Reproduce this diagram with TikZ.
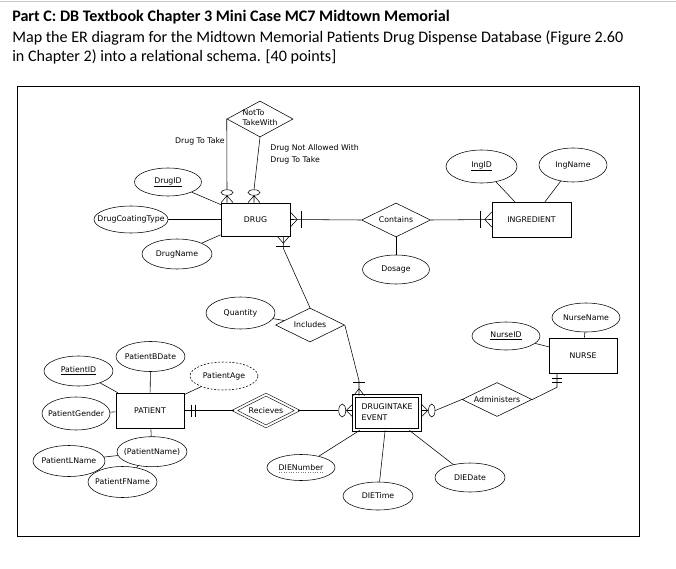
\documentclass[tikz,border=0pt]{standalone}
\usepackage{fontspec}
\newfontfamily\dgfont{DejaVu Sans}
\newfontfamily\ttlfont{Carlito}
\usetikzlibrary{shapes.geometric,calc}
\newcommand\zb[1]{\makebox[0pt]{#1}}
\newcommand\dg{\dgfont\fontsize{7.8}{9}\selectfont}
\begin{document}
\begin{tikzpicture}[x=1pt,y=-1pt,line width=0.55pt,
 ent/.style={draw,rectangle,inner sep=0,font=\dg},
 att/.style={draw,ellipse,inner sep=0,font=\dg},
 rel/.style={draw,diamond,inner sep=0,font=\dg},
 sz/.style 2 args={minimum width=#1pt,minimum height=#2pt},
 oval/.style={draw,ellipse,inner sep=0},
 txt/.style={inner sep=0,font=\dg},
 ttl/.style={inner sep=0,anchor=base west,font=\ttlfont\fontsize{16.1}{19}\selectfont}]
\useasboundingbox (0,0) rectangle (676,569);
\fill[white] (0,0) rectangle (676,569);
\draw[color={rgb,255:red,200;green,200;blue,200},line width=1pt] (0,1.5) -- (676,1.5);

% title
\node[ttl] (t1) at (12,22) {\bfseries Part C: DB Textbook Chapter 3 Mini Case MC7 Midtown Memorial};
\node[ttl] (t2) at (12,42.5) {Map the ER diagram for the Midtown Memorial Patients Drug Dispense Database (Figure 2.60};
\node[ttl] (t3) at (12,61.5) {in Chapter 2) into a relational schema. [40 points]};

% frame
\draw[line width=0.7pt] (17,86) rectangle (639,536);

% entities
\node[ent,sz={69}{33}] (drug) at (255.5,219.5) {\zb{DRUG}};
\node[ent,sz={79}{35}] (ingr) at (531.5,219.5) {\zb{INGREDIENT}};
\node[ent,sz={68}{35}] (nurse) at (583,355.5) {\zb{NURSE}};
\node[ent,sz={68}{35}] (patient) at (150,410.5) {\zb{PATIENT}};
\node[ent,double,double distance=2pt,sz={66}{34}] (die) at (387,413)
  {\zb{\begin{tabular}{@{}l@{}}DRUGINTAKE\\[1.5pt]EVENT\end{tabular}}};

% relationships
\node[rel,sz={66}{36}] (nt) at (260,119)
  {\zb{\begin{tabular}{@{}l@{}}NotTo\\[1pt]TakeWith\end{tabular}}};
\node[rel,sz={69}{34}] (cont) at (396,220) {\zb{Contains}};
\node[rel,sz={69}{34}] (incl) at (310,325) {\zb{Includes}};
\node[rel,sz={70}{34}] (admin) at (497,399.5) {\zb{Administers}};
\node[rel,double,double distance=2pt,sz={63}{32}] (recv) at (266,410.5) {\zb{Recieves}};

% attributes
\node[att,sz={67}{28}] (drugid) at (168,182) {\zb{\underline{DrugID}}};
\node[att,sz={74}{27}] (dct) at (131,219.5) {\zb{DrugCoatingType}};
\node[att,sz={70}{30}] (dname) at (177,254) {\zb{DrugName}};
\node[att,sz={67}{29}] (dosage) at (396,269.5) {\zb{Dosage}};
\node[att,sz={71}{33}] (ingid) at (481.5,166.5) {\zb{\underline{IngID}}};
\node[att,sz={68}{34}] (ingname) at (573,165) {\zb{IngName}};
\node[att,sz={69}{32}] (qty) at (240.5,313) {\zb{Quantity}};
\node[att,sz={68}{29}] (nname) at (586,317.5) {\zb{NurseName}};
\node[att,sz={68}{28}] (nid) at (506,336) {\zb{\underline{NurseID}}};
\node[att,sz={69}{30}] (pid) at (78.5,371) {\zb{\underline{PatientID}}};
\node[att,sz={69}{30}] (pbdate) at (150.5,356.5) {\zb{PatientBDate}};
\node[att,dashed,dash pattern=on 2pt off 1.6pt,sz={68}{28}] (page) at (224,376) {\zb{PatientAge}};
\node[att,sz={68}{33}] (pgender) at (76,413.5) {\zb{PatientGender}};
\node[att,sz={70}{30}] (pname) at (152,451.7) {\zb{(PatientName)}};
\node[att,sz={72}{31}] (plname) at (69,461) {\zb{PatientLName}};
\node[att,sz={69}{31}] (pfname) at (122.5,482) {\zb{PatientFName}};
\node[att,sz={68}{26}] (dien) at (301,467.5) {\zb{DIENumber}};
\node[att,sz={70}{28}] (dietime) at (378,496) {\zb{DIETime}};
\node[att,sz={70}{29}] (diedate) at (470,477.5) {\zb{DIEDate}};
\draw[dotted,line width=0.4pt,gray] ($(dien.center)+(-22,4.5)$) -- ($(dien.center)+(22,4.5)$);

% free labels
\node[txt,anchor=east] (l1) at (225,141) {Drug To Take};
\node[txt,anchor=west] (l2) at (270,148) {Drug Not Allowed With};
\node[txt,anchor=west] (l3) at (270,160) {Drug To Take};

% attribute connectors
\draw (drugid) -- (drug);
\draw (dct) -- (drug);
\draw (dname) -- (drug);
\draw (dosage) -- (cont);
\draw (ingid) -- (ingr);
\draw (ingname) -- (ingr);
\draw (qty) -- (incl);
\draw (nname) -- (nurse);
\draw (nid) -- (nurse);
\draw (pid) -- (patient);
\draw (pbdate) -- (patient);
\draw (page) -- (patient);
\draw (pgender) -- (patient);
\draw (pname) -- (patient);
\draw (plname) -- (pname);
\draw (pfname) -- (pname);
\draw (dien) -- (die);
\draw (dietime) -- (die);
\draw (diedate) -- (die);

% NotToTakeWith: zero-or-many on DRUG (two legs)
\node[oval,minimum width=12pt,minimum height=5.5pt] (o1) at (227,192.5) {};
\node[oval,minimum width=12pt,minimum height=5.5pt] (o2) at (254,192.5) {};
\draw (nt.west) -- (o1.north);
\draw (nt.south) -- (o2.north);
\draw ($(o1.south |- drug.north)+(-6,0)$) -- (o1.south) -- ($(o1.south |- drug.north)+(6,0)$)
      (o1.south) -- (o1.south |- drug.north);
\draw ($(o2.south |- drug.north)+(-6,0)$) -- (o2.south) -- ($(o2.south |- drug.north)+(6,0)$)
      (o2.south) -- (o2.south |- drug.north);

% Contains
\draw (drug.east) -- (cont.west);
\draw ($(drug.east)+(0,-7.5)$) -- ($(drug.east)+(7,0)$) -- ($(drug.east)+(0,7.5)$);
\draw ($(drug.east)+(11,-8.5)$) -- ($(drug.east)+(11,8.5)$);
\draw (cont.east) -- (ingr.west);
\draw ($(ingr.west)+(0,-7.5)$) -- ($(ingr.west)+(-7,0)$) -- ($(ingr.west)+(0,7.5)$);
\draw ($(ingr.west)+(-11,-8.5)$) -- ($(ingr.west)+(-11,8.5)$);

% Includes
\coordinate (b) at ($(drug.south east)+(-7,0)$);
\draw ($(b)+(-6,0)$) -- ($(b)+(0,7)$) -- ($(b)+(6,0)$);
\draw ($(b)+(-7,10)$) -- ($(b)+(7,10)$);
\draw (b) -- ($(b)+(0,12)$) -- (incl.north);
\coordinate (t) at ($(die.north)+(-28,0)$);
\draw ($(t)+(-5.5,0)$) -- ($(t)+(0,-7)$) -- ($(t)+(5.5,0)$);
\draw ($(t)+(-6,-13)$) -- ($(t)+(6,-13)$);
\draw (t) -- ($(t)+(0,-15)$) -- (incl.east);

% Recieves
\draw (patient.east) -- (recv.west);
\draw ($(patient.east)+(7,-6)$) -- ($(patient.east)+(7,6)$);
\draw ($(patient.east)+(11,-6)$) -- ($(patient.east)+(11,6)$);
\coordinate (l) at ($(die.west)+(-1,-2.5)$);
\node[oval,minimum width=7pt,minimum height=13pt] (o3) at ($(l)+(-10.5,0)$) {};
\draw (recv.east) -- (o3.west);
\draw ($(l)+(0,-6.5)$) -- ($(l)+(-6.5,0)$) -- ($(l)+(0,6.5)$) ($(l)+(-6.5,0)$) -- (l);

% Administers
\coordinate (r) at ($(die.east)+(1,-2.5)$);
\node[oval,minimum width=6.5pt,minimum height=13pt] (o4) at ($(r)+(10.5,0)$) {};
\draw (o4.east) -- (admin.west);
\draw ($(r)+(0,-6.5)$) -- ($(r)+(6.5,0)$) -- ($(r)+(0,6.5)$) ($(r)+(6.5,0)$) -- (r);
\coordinate (n) at ($(nurse.south)+(-26,0)$);
\draw (n) -- ($(n)+(0,14)$) -- (admin.east);
\draw ($(n)+(-5,4.5)$) -- ($(n)+(5,4.5)$);
\draw ($(n)+(-5,8.5)$) -- ($(n)+(5,8.5)$);
\end{tikzpicture}
\end{document}
